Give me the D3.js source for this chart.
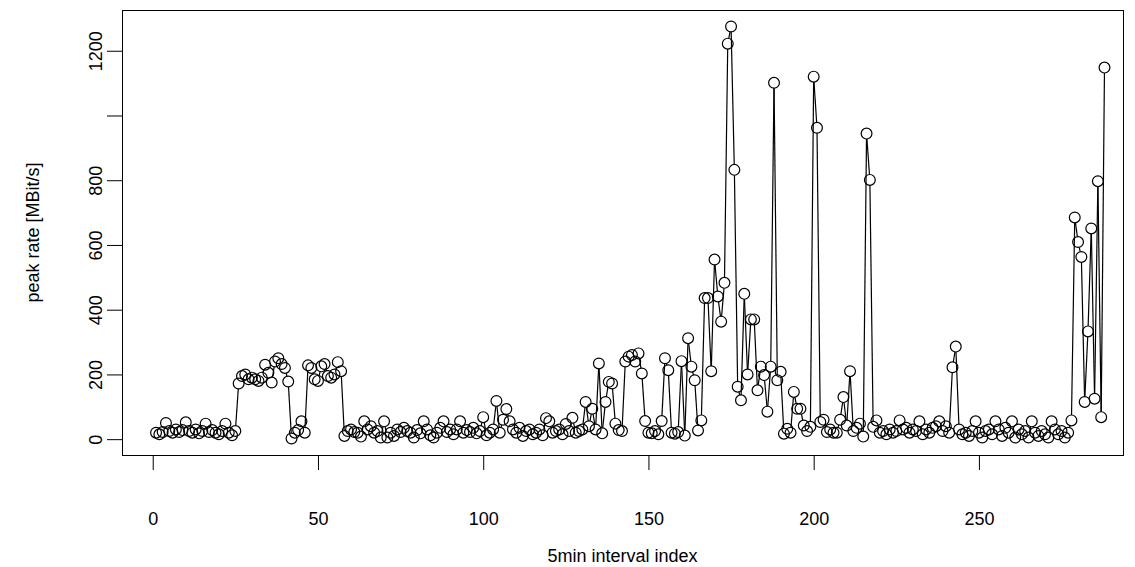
<!DOCTYPE html>
<html>
<head>
<meta charset="utf-8">
<script src="https://cdn.jsdelivr.net/npm/d3@7"></script>
<style>
  html, body { margin: 0; padding: 0; background: #fff; }
  svg text { font-family: "Liberation Sans", Arial, Helvetica, sans-serif; fill: #000; }
</style>
</head>
<body>
<div id="chart"></div>
<script>
// peak rate per 5min interval (MBit/s)
var rate001 = [20, 15, 22, 50, 25, 20, 30, 22, 28, 52, 25, 20, 30, 18, 25, 48, 22, 28, 20, 15,
               25, 48, 20, 12, 25, 172, 195, 200, 185, 190, 185, 180, 190, 230, 205, 175, 240, 250, 232, 220];
var rate041 = [178, 2, 20, 28, 55, 20, 228, 220, 185, 180, 225, 232, 195, 190, 200, 238, 210, 10, 25, 30,
               22, 20, 8, 55, 30, 40, 20, 25, 5, 55, 5, 20, 10, 30, 22, 35, 25, 20, 5, 28];
var rate081 = [18, 55, 30, 12, 5, 20, 35, 55, 22, 30, 15, 30, 55, 20, 28, 22, 35, 18, 25, 68,
               12, 20, 30, 118, 20, 60, 93, 55, 30, 20, 35, 10, 25, 30, 15, 20, 30, 12, 65, 55];
var rate121 = [20, 25, 30, 15, 47, 25, 66, 20, 25, 30, 115, 40, 94, 30, 234, 18, 115, 177, 172, 48,
               28, 25, 240, 255, 260, 240, 265, 203, 56, 20, 18, 25, 15, 56, 250, 213, 20, 17, 22, 241];
var rate161 = [11, 312, 224, 182, 27, 58, 436, 436, 210, 555, 441, 363, 483, 1222, 1275, 832, 162, 120, 449, 200,
               370, 370, 151, 224, 198, 85, 224, 1101, 182, 208, 17, 32, 20, 146, 94, 94, 42, 25, 38, 1120];
var rate201 = [962, 53, 60, 22, 30, 20, 20, 60, 130, 42, 210, 25, 35, 48, 8, 944, 801, 38, 58, 20,
               25, 15, 30, 20, 25, 58, 30, 35, 20, 30, 25, 55, 15, 30, 20, 35, 40, 55, 25, 40];
var rate241 = [20, 222, 286, 30, 15, 20, 10, 25, 55, 20, 5, 25, 30, 15, 55, 30, 10, 35, 20, 55,
               5, 30, 15, 25, 5, 55, 20, 10, 25, 15, 5, 55, 30, 15, 25, 5, 20, 58, 685, 609];
var rate281 = [563, 115, 333, 651, 125, 797, 68, 1148];

var rates = [].concat(rate001, rate041, rate081, rate121, rate161, rate201, rate241, rate281);

var xTicks = [0, 50, 100, 150, 200, 250];
var yTicks = [0, 200, 400, 600, 800, 1000, 1200];
var yLabels = ['0', '200', '400', '600', '800', '', '1200'];

var xTitle = '5min interval index';
var yTitle = 'peak rate [MBit/s]';

(function() {
  'use strict';

  var width = 1135, height = 567;
  var box = {left: 122, right: 1123, top: 10, bottom: 455};
  var r = 5.4;

  var data = rates.map(function(v, i) { return {i: i + 1, v: v}; });

  var svg = d3.select('#chart').append('svg')
      .attr('width', width)
      .attr('height', height)
      .style('display', 'block');

  svg.append('rect').attr('width', width).attr('height', height).attr('fill', '#fff');

  // x range as it sits in the picture
  var x = d3.scaleLinear().domain([-9.3, 293.6]).range([box.left, box.right]);

  // y range: R style 4% padding around the data
  var yExt = d3.extent(rates), yPad = (yExt[1] - yExt[0]) * 0.04;
  var y = d3.scaleLinear().domain([yExt[0] - yPad, yExt[1] + yPad]).range([box.bottom, box.top]);

  // axes
  var gx = svg.append('g')
      .attr('transform', 'translate(0,' + box.bottom + ')')
      .call(d3.axisBottom(x).tickValues(xTicks).tickSize(15).tickSizeOuter(0));
  gx.select('.domain').remove();
  gx.selectAll('line').attr('stroke', '#000').attr('stroke-width', 1);
  gx.selectAll('text')
      .attr('y', 0).attr('dy', null)
      .attr('transform', 'translate(0,70)')
      .style('font-size', '18px');

  var gy = svg.append('g')
      .attr('transform', 'translate(' + box.left + ',0)')
      .call(d3.axisLeft(y).tickValues(yTicks).tickSize(15).tickSizeOuter(0)
              .tickFormat(function(d, i) { return yLabels[i]; }));
  gy.select('.domain').remove();
  gy.selectAll('line').attr('stroke', '#000').attr('stroke-width', 1);
  gy.selectAll('text')
      .attr('x', null).attr('dy', null)
      .attr('transform', 'translate(-20,0) rotate(-90)')
      .attr('text-anchor', 'middle')
      .style('font-size', '18px');

  // plot box
  svg.append('rect')
      .attr('x', box.left + 0.5).attr('y', box.top + 0.5)
      .attr('width', box.right - box.left).attr('height', box.bottom - box.top)
      .attr('fill', 'none').attr('stroke', '#000').attr('stroke-width', 1);

  // titles
  svg.append('text')
      .attr('x', (box.left + box.right) / 2).attr('y', 562)
      .attr('text-anchor', 'middle')
      .style('font-size', '18px')
      .text(xTitle);

  svg.append('text')
      .attr('transform', 'translate(39,' + (box.top + box.bottom) / 2 + ') rotate(-90)')
      .attr('text-anchor', 'middle')
      .style('font-size', '18px')
      .text(yTitle);

  // type = "b": segments stop short of each circle
  var segs = d3.pairs(data).map(function(p) {
    var x1 = x(p[0].i), y1 = y(p[0].v), x2 = x(p[1].i), y2 = y(p[1].v);
    var dx = x2 - x1, dy = y2 - y1, len = Math.sqrt(dx * dx + dy * dy);
    if (len <= 2 * r) return null;
    var ux = dx / len, uy = dy / len;
    return [x1 + ux * r, y1 + uy * r, x2 - ux * r, y2 - uy * r];
  }).filter(function(s) { return s; });

  svg.append('g').selectAll('line')
      .data(segs)
      .enter().append('line')
      .attr('x1', function(s) { return s[0]; })
      .attr('y1', function(s) { return s[1]; })
      .attr('x2', function(s) { return s[2]; })
      .attr('y2', function(s) { return s[3]; })
      .attr('stroke', '#000')
      .attr('stroke-width', 1.2);

  svg.append('g').selectAll('circle')
      .data(data)
      .enter().append('circle')
      .attr('cx', function(d) { return x(d.i); })
      .attr('cy', function(d) { return y(d.v); })
      .attr('r', r)
      .attr('fill', 'none')
      .attr('stroke', '#000')
      .attr('stroke-width', 1.2);
}());
</script>
</body>
</html>
